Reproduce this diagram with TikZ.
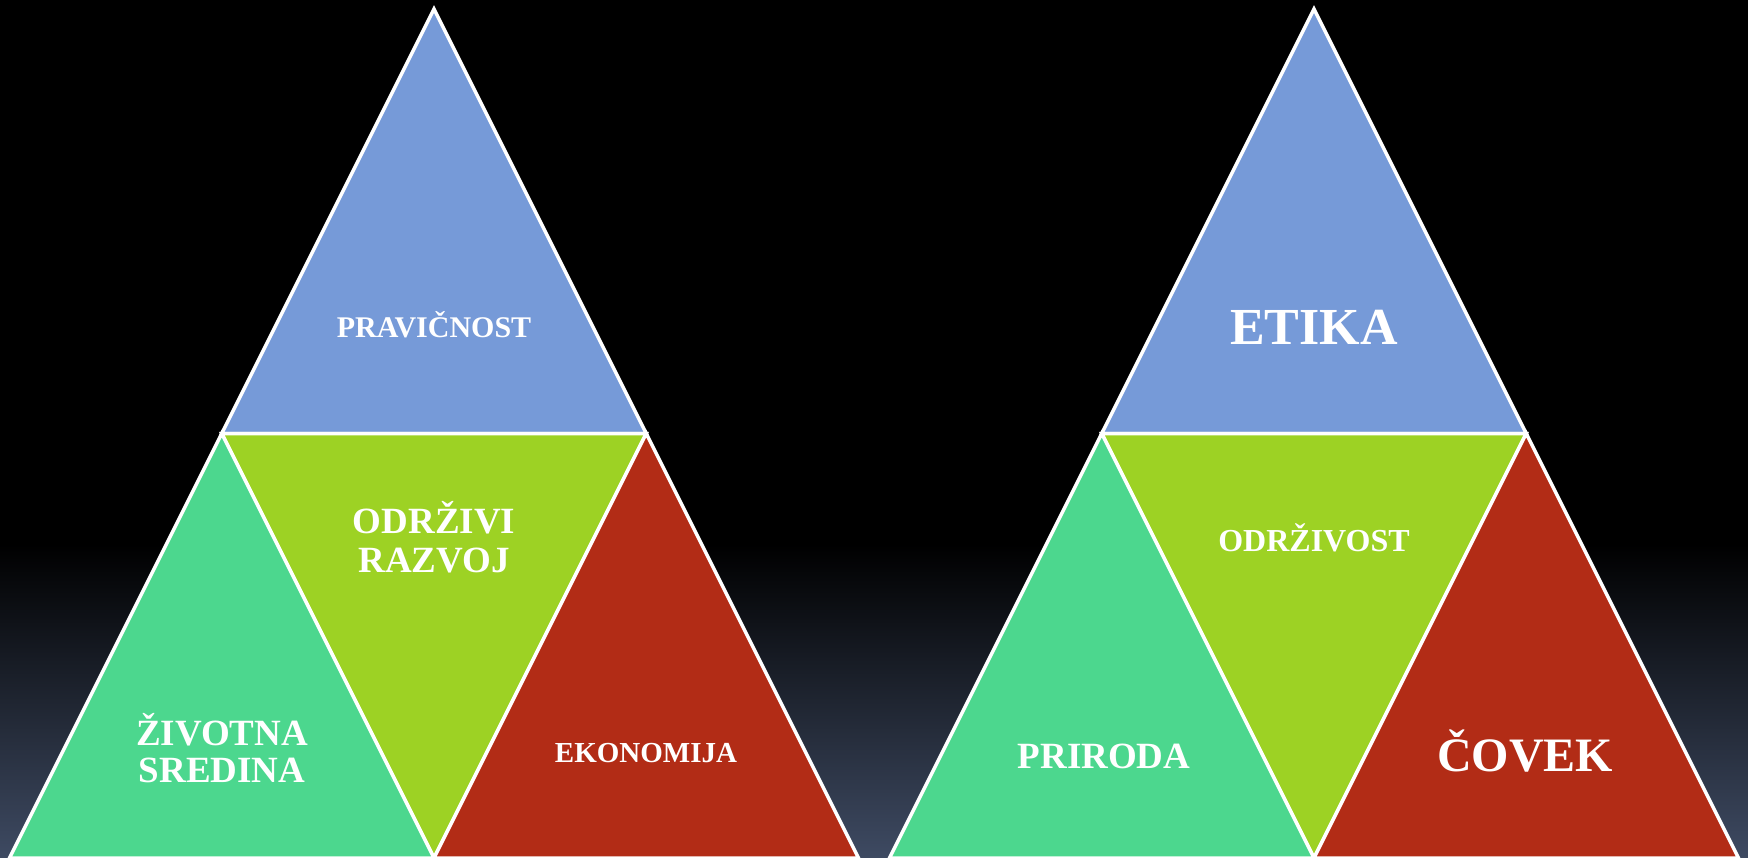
\documentclass[tikz,border=0pt]{standalone}
\usepackage{fontspec}
\setmainfont{Liberation Serif}
\definecolor{cblue}{RGB}{118,154,216}
\definecolor{clime}{RGB}{157,210,36}
\definecolor{cgreen}{RGB}{76,215,142}
\definecolor{cred}{RGB}{178,44,22}
\definecolor{bgbot}{RGB}{62,74,98}
\tikzset{
  tri/.style={draw=white, line width=3.5pt, line join=miter},
  lbl/.style={text=white, font=\bfseries, anchor=base, inner sep=0pt, align=center},
}
\newcommand{\fs}[1]{\fontsize{#1}{#1}\selectfont}
\begin{document}
\begin{tikzpicture}[x=1pt,y=-1pt]
\useasboundingbox (0,0) rectangle (1748,858);
\begin{scope}
\clip (0,0) rectangle (1748,858);
\fill[black] (0,0) rectangle (1748,545);
\shade[top color=black, bottom color=bgbot] (0,544) rectangle (1748,858);
% left pyramid
\coordinate (LA) at (434,9);
\coordinate (LL) at (9.5,858);
\coordinate (LR) at (858.5,858);
\coordinate (LML) at (221.75,433.5);
\coordinate (LMR) at (646.25,433.5);
\coordinate (LB) at (434,858);
\filldraw[tri, fill=cblue] (LA) -- (LML) -- (LMR) -- cycle;
\filldraw[tri, fill=clime] (LML) -- (LMR) -- (LB) -- cycle;
\filldraw[tri, fill=cgreen] (LML) -- (LB) -- (LL) -- cycle;
\filldraw[tri, fill=cred] (LMR) -- (LR) -- (LB) -- cycle;
% right pyramid
\coordinate (RA) at (1314,9);
\coordinate (RL) at (889.5,858);
\coordinate (RR) at (1738.5,858);
\coordinate (RML) at (1101.75,433.5);
\coordinate (RMR) at (1526.25,433.5);
\coordinate (RB) at (1314,858);
\filldraw[tri, fill=cblue] (RA) -- (RML) -- (RMR) -- cycle;
\filldraw[tri, fill=clime] (RML) -- (RMR) -- (RB) -- cycle;
\filldraw[tri, fill=cgreen] (RML) -- (RB) -- (RL) -- cycle;
\filldraw[tri, fill=cred] (RMR) -- (RR) -- (RB) -- cycle;
\end{scope}
% labels
\node[lbl, font=\bfseries\fs{30}] (pravicnost) at (434,338) {PRAVIČNOST};
\node[lbl, font=\bfseries\fs{37}] (odrzivi) at (434,533) {ODRŽIVI};
\node[lbl, font=\bfseries\fs{37}] (razvoj) at (434,572) {RAZVOJ};
\node[lbl, font=\bfseries\fs{37}] (zivotna) at (222,745) {ŽIVOTNA};
\node[lbl, font=\bfseries\fs{37}] (sredina) at (222,782) {SREDINA};
\node[lbl, font=\bfseries\fs{29}] (ekonomija) at (646,762) {EKONOMIJA};
\node[lbl, font=\bfseries\fs{52}] (etika) at (1314,345) {ETIKA};
\node[lbl, font=\bfseries\fs{32}] (odrzivost) at (1314,551) {ODRŽIVOST};
\node[lbl, font=\bfseries\fs{37}] (priroda) at (1104,768) {PRIRODA};
\node[lbl, font=\bfseries\fs{48}] (covek) at (1525,771) {ČOVEK};
\end{tikzpicture}
\end{document}
